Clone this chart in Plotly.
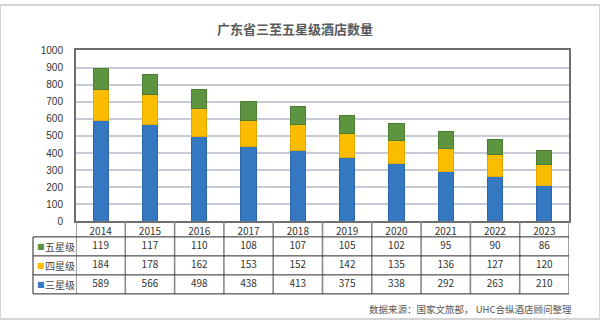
import plotly.graph_objects as go

years = ["2014", "2015", "2016", "2017", "2018", "2019", "2020", "2021", "2022", "2023"]
five_star = [119, 117, 110, 108, 107, 105, 102, 95, 90, 86]
four_star = [184, 178, 162, 153, 152, 142, 135, 136, 127, 120]
three_star = [589, 566, 498, 438, 413, 375, 338, 292, 263, 210]

series_names = ["三星级", "四星级", "五星级"]
series_vals = [three_star, four_star, five_star]
series_colors = ["#3578c2", "#fbbd00", "#5c9440"]
series_edges = ["#2c66a8", "#e0a800", "#4d7d35"]

title_text = "广东省三至五星级酒店数量"
source_text = "数据来源：国家文旅部， UHC合纵酒店顾问整理"

W, H = 600, 325
px_x = lambda p: p / W
px_y = lambda p: 1 - p / H

x_dom = [px_x(76), px_x(569)]
y_dom = [px_y(224), px_y(47)]
t_dom = [px_y(299), px_y(240)]  # table rows domain

CJK = "Noto Sans CJK SC"

fig = go.Figure()
for name, vals, col, edge in zip(series_names, series_vals, series_colors, series_edges):
    fig.add_trace(go.Bar(x=years, y=vals, name=name,
                         marker=dict(color=col, line=dict(width=1, color=edge)),
                         width=0.31, showlegend=False, hoverinfo="x+y+name"))

# table rows (top to bottom: 五星级, 四星级, 三星级)
table_rows = [("五星级", five_star, "#5c9440"), ("四星级", four_star, "#fbbd00"), ("三星级", three_star, "#3578c2")]
for ri, (name, vals, col) in enumerate(table_rows):
    fig.add_trace(go.Scatter(x=years, y=[ri] * len(years), text=[str(v) for v in vals], mode="text",
                             textfont=dict(family=CJK, size=10, color="#333333"),
                             xaxis="x", yaxis="y2", showlegend=False, hoverinfo="skip"))

shapes = []
# outer border
shapes.append(dict(type="rect", xref="paper", yref="paper", x0=0, x1=1, y0=0, y1=1,
                   line=dict(color="#d4d4d4", width=2)))
# vertical column dividers through header + table rows
for i in range(len(years) + 1):
    shapes.append(dict(type="line", xref="x", yref="paper", x0=i - 0.5, x1=i - 0.5,
                       y0=t_dom[0], y1=y_dom[0], line=dict(color="#8a8a8a", width=1.6)))
# left border of label column
shapes.append(dict(type="line", xref="paper", yref="paper", x0=px_x(33), x1=px_x(33),
                   y0=t_dom[0], y1=t_dom[1], line=dict(color="#222222", width=1)))
# horizontal row lines
nrows = len(table_rows)
for k in range(nrows + 1):
    yk = t_dom[1] - (t_dom[1] - t_dom[0]) * k / nrows
    shapes.append(dict(type="line", xref="paper", yref="paper", x0=px_x(33), x1=x_dom[1],
                       y0=yk, y1=yk, line=dict(color="#2a2a2a", width=1)))

annotations = []
annotations.append(dict(text="<b>" + title_text + "</b>", xref="paper", yref="paper",
                        x=px_x(295), y=px_y(24), yanchor="middle", showarrow=False,
                        font=dict(family=CJK, size=13, color="#595959")))
annotations.append(dict(text=source_text, xref="paper", yref="paper", x=px_x(574), y=px_y(315),
                        xanchor="right", yanchor="middle", showarrow=False,
                        font=dict(family=CJK, size=9.5, color="#555555")))
for ri, (name, vals, col) in enumerate(table_rows):
    annotations.append(dict(text="■", xref="paper", yref="y2", x=px_x(34.5), y=ri, xanchor="left",
                            showarrow=False, font=dict(family="DejaVu Sans", size=8, color=col)))
    annotations.append(dict(text=name, xref="paper", yref="y2", x=px_x(42.5), y=ri, xanchor="left",
                            showarrow=False, font=dict(family=CJK, size=10, color="#444444")))

fig.update_layout(
    width=W, height=H, margin=dict(l=0, r=0, t=0, b=0),
    paper_bgcolor="white", plot_bgcolor="white",
    barmode="stack", bargap=0.69,
    xaxis=dict(domain=x_dom, type="category", range=[-0.5, len(years) - 0.5],
               showline=True, mirror=True, linecolor="#6e6e6e", linewidth=2,
               ticks="", showgrid=False, anchor="y", ticklabelstandoff=0,
               tickfont=dict(family=CJK, size=10, color="#333333")),
    yaxis=dict(domain=y_dom, range=[0, 1000], dtick=100, showline=True, mirror=True,
               linecolor="#6e6e6e", linewidth=2, gridcolor="#c6ccd7", gridwidth=1.5,
               ticks="", ticklabelstandoff=9, zeroline=False,
               tickfont=dict(family="Liberation Sans", size=10, color="#333333")),
    yaxis2=dict(domain=t_dom, range=[nrows - 0.5, -0.5], visible=False, anchor="x",
                showgrid=False, zeroline=False),
    shapes=shapes, annotations=annotations,
)

fig.write_html("out.html")
